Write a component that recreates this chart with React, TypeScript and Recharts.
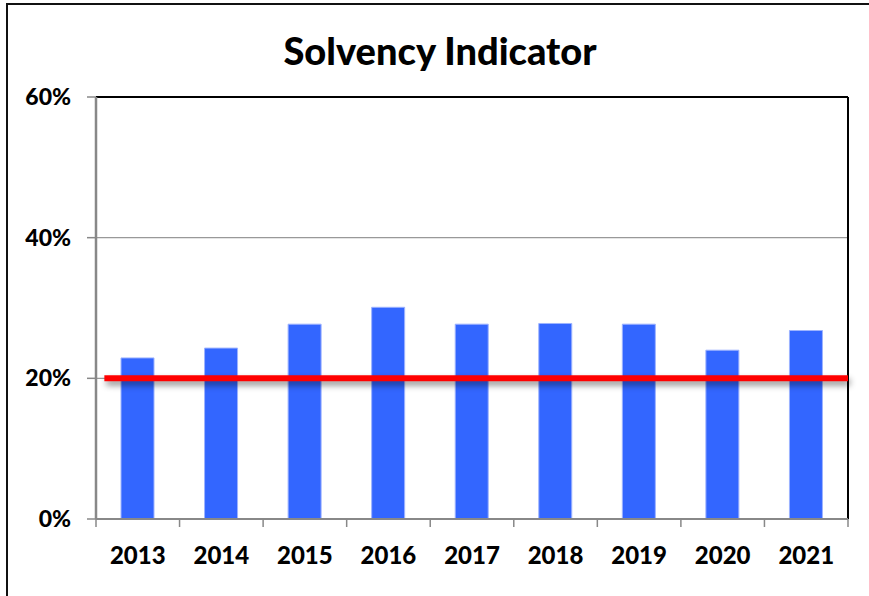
import { ComposedChart, Bar, XAxis, YAxis, CartesianGrid, ReferenceLine } from "recharts";

const years = ["2013", "2014", "2015", "2016", "2017", "2018", "2019", "2020", "2021"];
const solvency = [22.9, 24.3, 27.7, 30.1, 27.7, 27.8, 27.7, 24.0, 26.8];
const yTicks = [0, 20, 40, 60];
const threshold = 20;

const data = years.map((year, i) => ({ x: i + 0.5, year, value: solvency[i] }));
const xTicks = years.flatMap((_, i) => [i, i + 0.5]).concat([years.length]);

const font = "Lato, 'Open Sans', sans-serif";

function YearTick(props: any) {
  const { x, y, payload } = props;
  const v = payload.value as number;
  if (Number.isInteger(v)) {
    return <line x1={x} x2={x} y1={y} y2={y + 8} stroke="#888" strokeWidth={1.5} />;
  }
  return (
    <text x={x} y={y + 45} textAnchor="middle" fontFamily={font} fontWeight={900} fontSize={24} fill="#000">
      {years[Math.floor(v)]}
    </text>
  );
}

export default function App() {
  return (
    <div style={{ position: "absolute", left: 0, top: 0, width: 869, height: 596, overflow: "hidden", background: "#fff" }}>
      <div style={{ position: "absolute", left: 6, top: 3, width: 880, height: 620, border: "2px solid #111" }} />
      <div
        style={{
          position: "absolute",
          left: 0,
          width: 880,
          top: 25,
          textAlign: "center",
          fontFamily: font,
          fontWeight: 900,
          fontSize: 38,
          lineHeight: "50px",
          color: "#000",
        }}
      >
        Solvency Indicator
      </div>
      <div style={{ position: "absolute", left: 0, top: 0 }}>
        <ComposedChart width={869} height={596} data={data} margin={{ top: 97, right: 21, bottom: 37, left: 0 }}>
          <CartesianGrid vertical={false} stroke="#999" strokeWidth={1.2} />
          <XAxis
            dataKey="x"
            type="number"
            domain={[0, years.length]}
            ticks={xTicks}
            interval={0}
            tickLine={false}
            tickSize={0}
            tickMargin={0}
            tick={<YearTick />}
            axisLine={{ stroke: "#888", strokeWidth: 2 }}
            height={40}
          />
          <YAxis
            type="number"
            domain={[0, 60]}
            ticks={yTicks}
            width={96}
            tickFormatter={(v: number) => `${v}%`}
            tick={{ fontFamily: font, fontWeight: 900, fontSize: 23, fill: "#000" }}
            tickLine={{ stroke: "#888", strokeWidth: 1.5 }}
            tickSize={9}
            tickMargin={16}
            axisLine={{ stroke: "#888", strokeWidth: 2.5 }}
          />
          <ReferenceLine y={60} stroke="#000" strokeWidth={2} />
          <ReferenceLine x={years.length} stroke="#000" strokeWidth={2} />
          <Bar dataKey="value" fill="#3366FF" stroke="#9db3ff" strokeWidth={1} barSize={33} isAnimationActive={false} />
          <ReferenceLine
            segment={[
              { x: 0.1, y: threshold },
              { x: years.length, y: threshold },
            ]}
            stroke="#FF0000"
            strokeWidth={6}
            style={{ filter: "drop-shadow(2px 4px 3px rgba(0,0,0,0.45))" }}
          />
        </ComposedChart>
      </div>
    </div>
  );
}
